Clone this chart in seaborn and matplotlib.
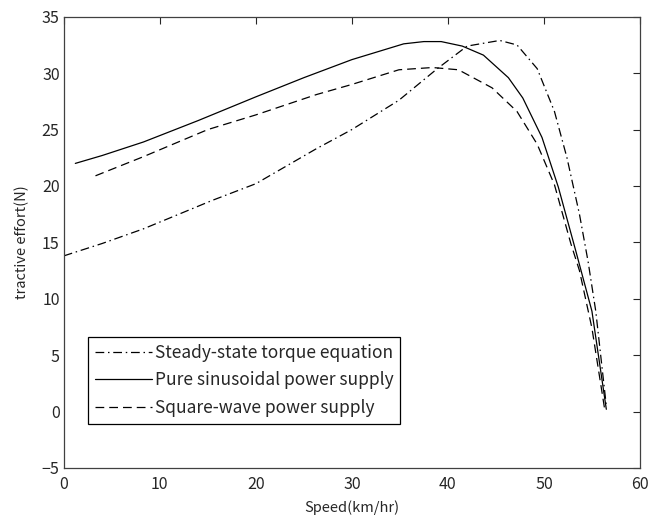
import matplotlib
matplotlib.use("Agg")
import matplotlib.pyplot as plt
import seaborn as sns
import pandas as pd

# Steady-state torque equation
steady_x = [0.0, 4.0, 8.3, 12.0, 15.4, 20.0, 26.3, 30.0, 34.9, 38.9, 42.0, 45.4, 47.2, 49.3, 51.1, 52.4, 53.7, 54.6, 55.4, 56.5]
steady_y = [13.8, 14.9, 16.2, 17.5, 18.7, 20.2, 23.3, 25.0, 27.6, 30.4, 32.4, 32.9, 32.5, 30.4, 26.6, 22.5, 17.5, 13.3, 8.9, 0.5]

# Pure sinusoidal power supply
sine_x = [1.2, 4.0, 8.3, 14.0, 20.0, 25.0, 30.0, 35.4, 37.5, 39.3, 41.5, 43.7, 46.3, 47.8, 49.8, 51.5, 53.3, 55.0, 56.5]
sine_y = [22.0, 22.7, 23.9, 25.8, 27.9, 29.6, 31.2, 32.6, 32.8, 32.8, 32.4, 31.6, 29.6, 27.8, 24.3, 19.9, 14.3, 8.9, 0.2]

# Square-wave power supply
square_x = [3.3, 8.3, 15.0, 20.0, 26.3, 30.0, 34.9, 38.4, 41.1, 44.6, 47.2, 49.3, 51.1, 52.8, 53.7, 55.0, 56.3]
square_y = [20.9, 22.6, 25.0, 26.3, 28.1, 29.0, 30.3, 30.5, 30.3, 28.7, 26.6, 23.7, 20.1, 14.9, 12.5, 7.4, 0.35]

labels = ["Steady-state torque equation", "Pure sinusoidal power supply", "Square-wave power supply"]
xticks = [0, 10, 20, 30, 40, 50, 60]
yticks = [-5, 0, 5, 10, 15, 20, 25, 30, 35]

sns.set_theme(style="white")
plt.rcParams['font.family'] = ['Noto Sans CJK KR', 'DejaVu Sans']

fig = plt.figure(figsize=(6.51, 5.24), dpi=100)
ax = fig.add_axes([0.098, 0.107, 0.885, 0.861])

txtc = "#262626"
sns.lineplot(x=steady_x, y=steady_y, ax=ax, color="black", lw=0.9, sort=False,
             linestyle=(0, (7, 3, 1.2, 3)), label=labels[0])
sns.lineplot(x=sine_x, y=sine_y, ax=ax, color="black", lw=0.9, sort=False,
             linestyle="-", label=labels[1])
sns.lineplot(x=square_x, y=square_y, ax=ax, color="black", lw=0.9, sort=False,
             linestyle=(0, (7, 4)), label=labels[2])

ax.set_xlim(0, 60)
ax.set_ylim(-5, 35)
ax.set_xticks(xticks)
ax.set_yticks(yticks)
ax.tick_params(direction="in", length=5, width=0.8, top=True, right=True,
               labelsize=11.5, colors=txtc)
ax.tick_params(axis="x", pad=6)
ax.tick_params(axis="y", pad=3)
for s in ax.spines.values():
    s.set_color("#404040")
    s.set_linewidth(0.9)
    s.set_visible(True)
ax.set_xlabel("Speed(km/hr)", fontsize=10.5, color=txtc, labelpad=5)
ax.set_ylabel("tractive effort(N)", fontsize=10.5, color=txtc, labelpad=9)

leg = ax.legend(loc="lower left", bbox_to_anchor=(0.042, 0.098), fontsize=12.5,
                frameon=True, fancybox=False, framealpha=1, edgecolor="black",
                handlelength=3.3, handletextpad=0.15, borderpad=0.4, labelspacing=0.55,
                borderaxespad=0)
leg.get_frame().set_linewidth(0.9)
for t in leg.get_texts():
    t.set_color(txtc)

fig.savefig("out.png", dpi=100)
